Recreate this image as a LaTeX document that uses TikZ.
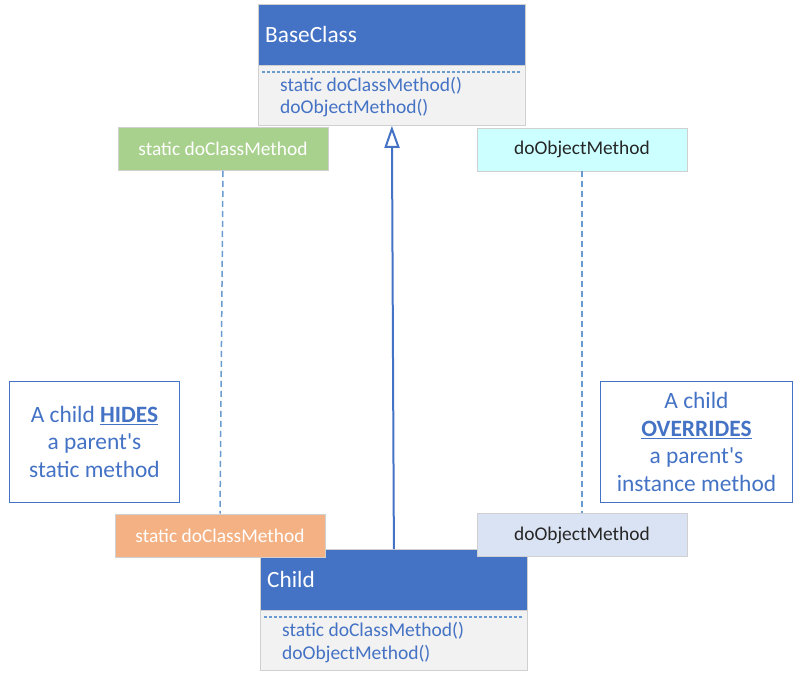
\documentclass[tikz,border=0pt]{standalone}
\usepackage{fontspec}
\setmainfont{Carlito}
\usetikzlibrary{arrows.meta}
\definecolor{hdrblue}{HTML}{4472C4}
\definecolor{txtblue}{HTML}{4472C4}
\definecolor{bodygray}{HTML}{F2F2F2}
\definecolor{bordergray}{HTML}{D0D0D0}
\definecolor{dashblue}{HTML}{6A9BD0}
\definecolor{greenfill}{HTML}{A9D18E}
\definecolor{cyanfill}{HTML}{CCFFFF}
\definecolor{orangefill}{HTML}{F4B183}
\definecolor{lavfill}{HTML}{DAE3F3}
\begin{document}
\begin{tikzpicture}[x=1pt,y=-1pt,
  header/.style={draw=bordergray, fill=hdrblue, line width=0.8pt, anchor=north west, inner sep=0pt, minimum width=267pt, minimum height=61pt},
  body/.style={draw=bordergray, fill=bodygray, line width=0.8pt, anchor=north west, inner sep=0pt, minimum width=267pt, minimum height=60pt},
  titletext/.style={anchor=west, inner sep=0pt, text=white, font=\fontsize{23.3}{28}\selectfont},
  methtext/.style={anchor=west, inner sep=0pt, text=txtblue, font=\fontsize{19.5}{23}\selectfont},
  smallbox/.style={draw=bordergray, line width=0.8pt, inner sep=0pt, minimum width=210pt, minimum height=43pt, font=\fontsize{19.4}{23}\selectfont},
  notebox/.style={draw=hdrblue, line width=0.9pt, anchor=north west, inner sep=0pt, text=txtblue, align=center, font=\fontsize{23.4}{27.5}\selectfont},
  sepline/.style={dashblue, line width=1.2pt, dash pattern=on 3pt off 2pt},
  connline/.style={dashblue, line width=1.5pt, dash pattern=on 6pt off 4pt},
  inherit/.style={hdrblue, line width=2pt, -{Triangle[open, length=22pt, width=15pt, line width=2pt]}}
]
\useasboundingbox (0,0) rectangle (793,680);

% BaseClass
\node[header] (basehead) at (258,4) {};
\node[body] (basebody) at (258,65) {};
\node[titletext] (basetitle) at (265,34) {BaseClass};
\coordinate (bsl) at (262,72);
\coordinate (bsr) at (521,72);
\draw[sepline] (bsl) -- (bsr);
\node[methtext] (basem1) at (280,86) {static doClassMethod()};
\node[methtext] (basem2) at (280,108) {doObjectMethod()};

% Child
\node[header] (childhead) at (260,549) {};
\node[body] (childbody) at (260,610) {};
\node[titletext] (childtitle) at (267,579) {Child};
\coordinate (csl) at (264,617);
\coordinate (csr) at (523,617);
\draw[sepline] (csl) -- (csr);
\node[methtext] (childm1) at (282,631) {static doClassMethod()};
\node[methtext] (childm2) at (282,654) {doObjectMethod()};

% inheritance arrow
\draw[inherit] (childhead.north) -- (basebody.south);

% method boxes
\node[smallbox, fill=greenfill, text=white] (pstatic) at (223,149) {static doClassMethod};
\node[smallbox, fill=cyanfill, text=black!85] (pobject) at (582,149.5) {doObjectMethod};
\node[smallbox, fill=orangefill, text=white] (cstatic) at (220,535.5) {static doClassMethod};
\node[smallbox, fill=lavfill, text=black!85] (cobject) at (582,535) {doObjectMethod};

\draw[connline] (pstatic.south) -- (cstatic.north);
\draw[connline] (pobject.south) -- (cobject.north);

% notes
\node[notebox, minimum width=170pt, minimum height=121pt] (hidenote) at (9,381) {A child \underline{\textbf{HIDES}}\\a parent\textquotesingle s\\static method};
\node[notebox, minimum width=192pt, minimum height=121pt] (overnote) at (600,381) {A child\\\underline{\textbf{OVERRIDES}}\\a parent\textquotesingle s\\instance method};
\end{tikzpicture}
\end{document}
